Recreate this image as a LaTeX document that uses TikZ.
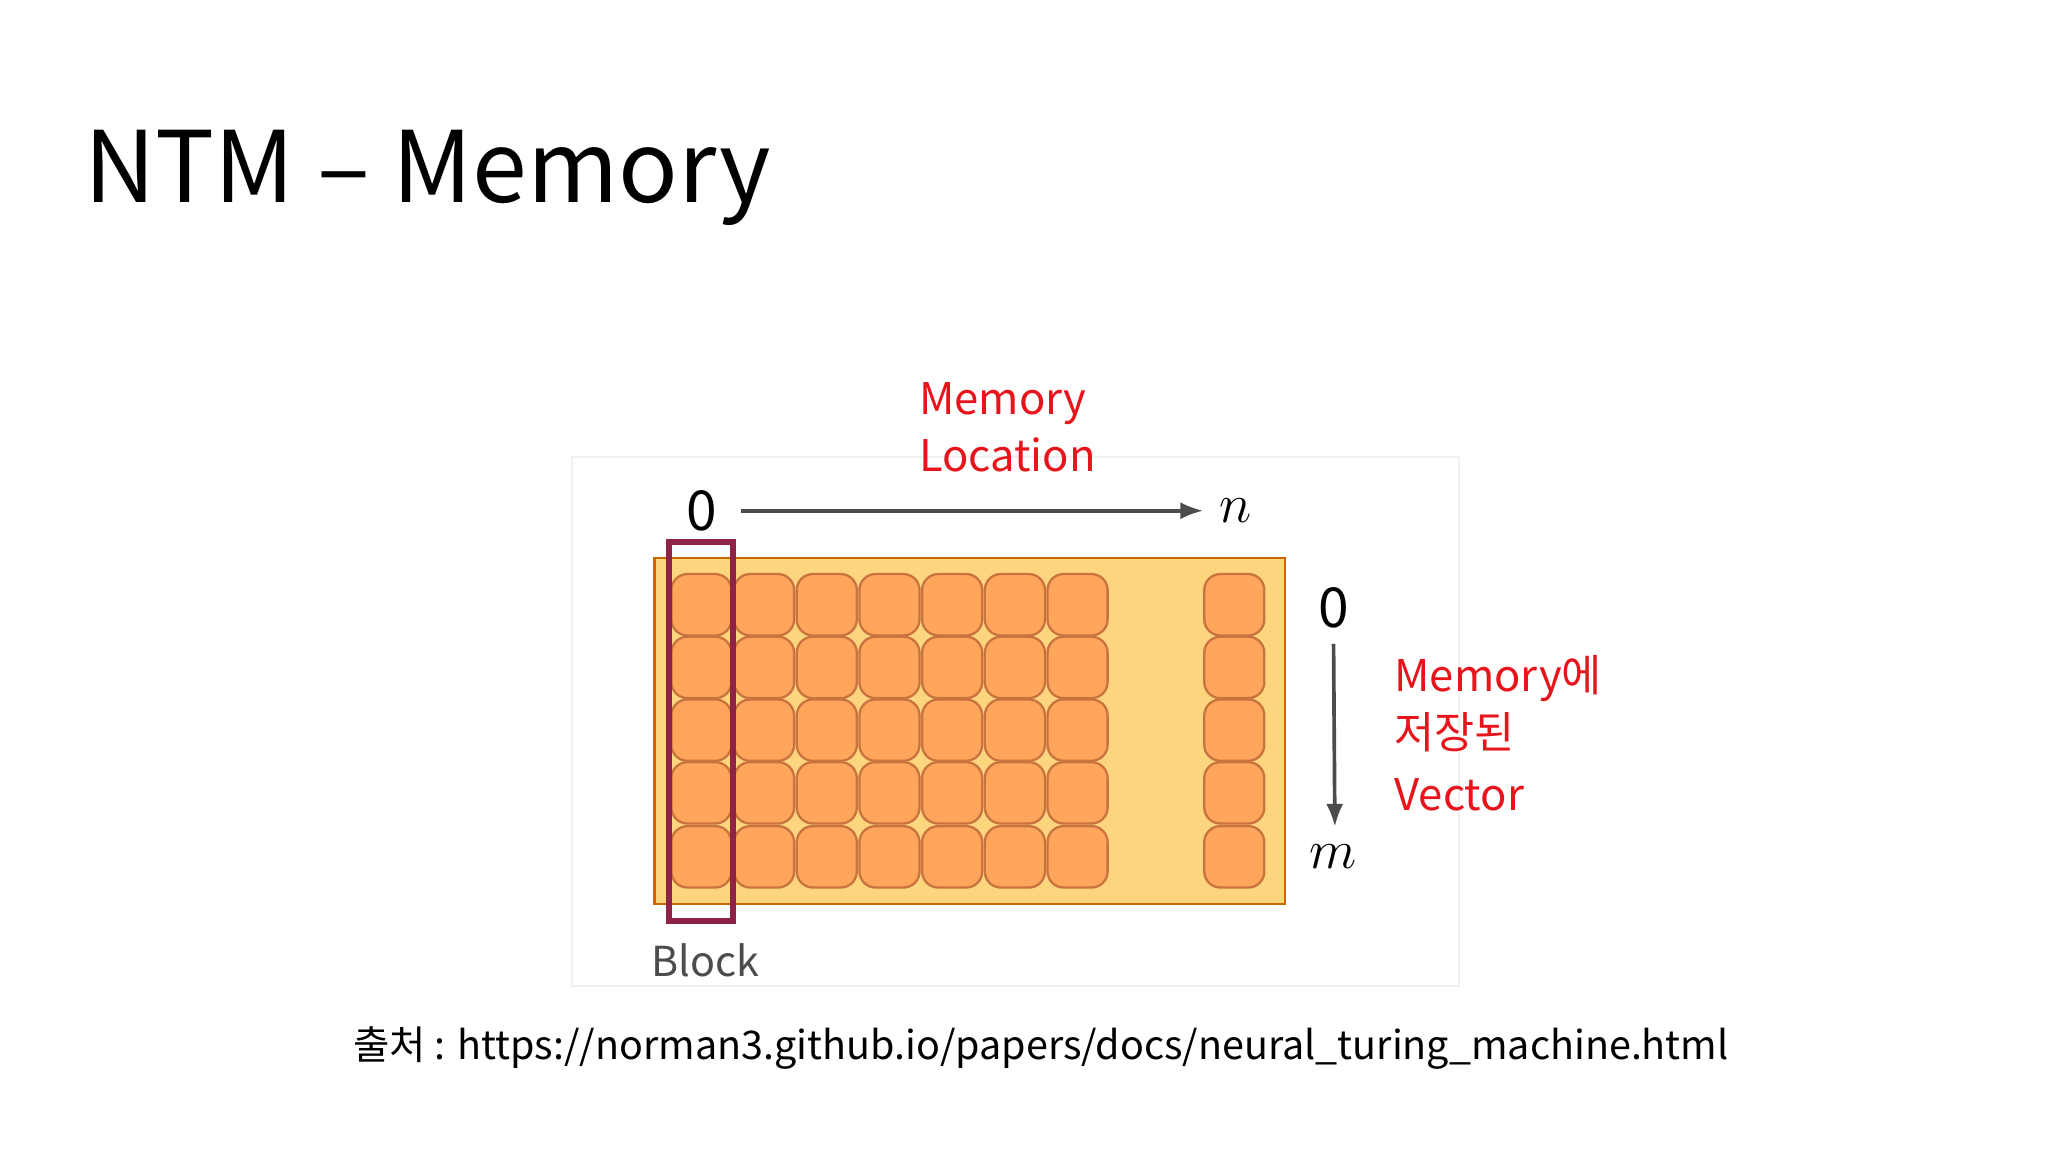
\documentclass[tikz,border=0pt]{standalone}
\usepackage{fontspec}
\setmainfont{Noto Sans CJK KR}
\usetikzlibrary{arrows.meta}
\definecolor{cellf}{HTML}{FFA65C}
\definecolor{celld}{HTML}{C9733F}
\definecolor{bgf}{HTML}{FDD57E}
\definecolor{blk}{HTML}{8E2346}
\definecolor{red1}{HTML}{E8141C}
\tikzset{cell/.style={draw=celld,fill=cellf,line width=0.5pt,rounded corners=3.5pt,minimum width=0.46cm,minimum height=0.47cm,inner sep=0pt},
lbl/.style={text=red1,font=\fontsize{9.5pt}{12.5pt}\selectfont,align=left,anchor=north west,inner sep=0pt}}
\newcommand{\PP}[2]{(#1/100,{(882-#2)/100})}
\begin{document}
\begin{tikzpicture}
\fill[white] (0,0) rectangle (15.68,8.82);
\useasboundingbox (0,0) rectangle (15.68,8.82);
\node[anchor=base west,inner sep=0pt,font=\fontsize{21.5pt}{24pt}\selectfont] (title) at \PP{64}{155} {NTM – Memory};
\draw[black!6] \PP{438}{350} rectangle \PP{1117}{755};
\node[draw=orange!80!black,fill=bgf,line width=0.5pt,minimum width=4.83cm,minimum height=2.65cm,inner sep=0pt] (mem) at \PP{742.5}{559.5} {};
\foreach \x in {537,585,633,681,729,777,825,945}{
 \foreach \y in {463,511,559,607,656}{
  \node[cell] (c\x\y) at \PP{\x}{\y} {};
 }}
\node[draw=blk,line width=1.4pt,minimum width=0.49cm,minimum height=2.9cm,inner sep=0pt] (block) at \PP{536.5}{560} {};
\node[text=black!70,font=\itshape\fontsize{9pt}{11pt}\selectfont] (blabel) at \PP{540}{735} {Block};
\node[font=\fontsize{12pt}{14pt}\selectfont] (z1) at \PP{537}{391} {0};
\node[font=\fontsize{13pt}{14pt}\selectfont] (n) at \PP{946}{391} {$n$};
\draw[-{Latex[length=5pt]},black!70,line width=0.8pt] (z1.east)++(0.06,0) -- (n.west);
\node[font=\fontsize{12pt}{14pt}\selectfont] (z2) at \PP{1021}{465} {0};
\node[font=\fontsize{13pt}{14pt}\selectfont] (m) at \PP{1021}{656} {$m$};
\draw[-{Latex[length=5pt]},black!70,line width=0.8pt] (z2.south) -- \PP{1022}{633};
\node[lbl] (ml) at \PP{703}{292} {Memory\\Location};
\node[lbl] (mv) at \PP{1067}{501} {Memory에\\저장된\\[1pt]Vector};
\node[font=\fontsize{8.6pt}{10pt}\selectfont] (src) at \PP{797}{802} {출처 : https://norman3.github.io/papers/docs/neural\_turing\_machine.html};
\end{tikzpicture}
\end{document}
